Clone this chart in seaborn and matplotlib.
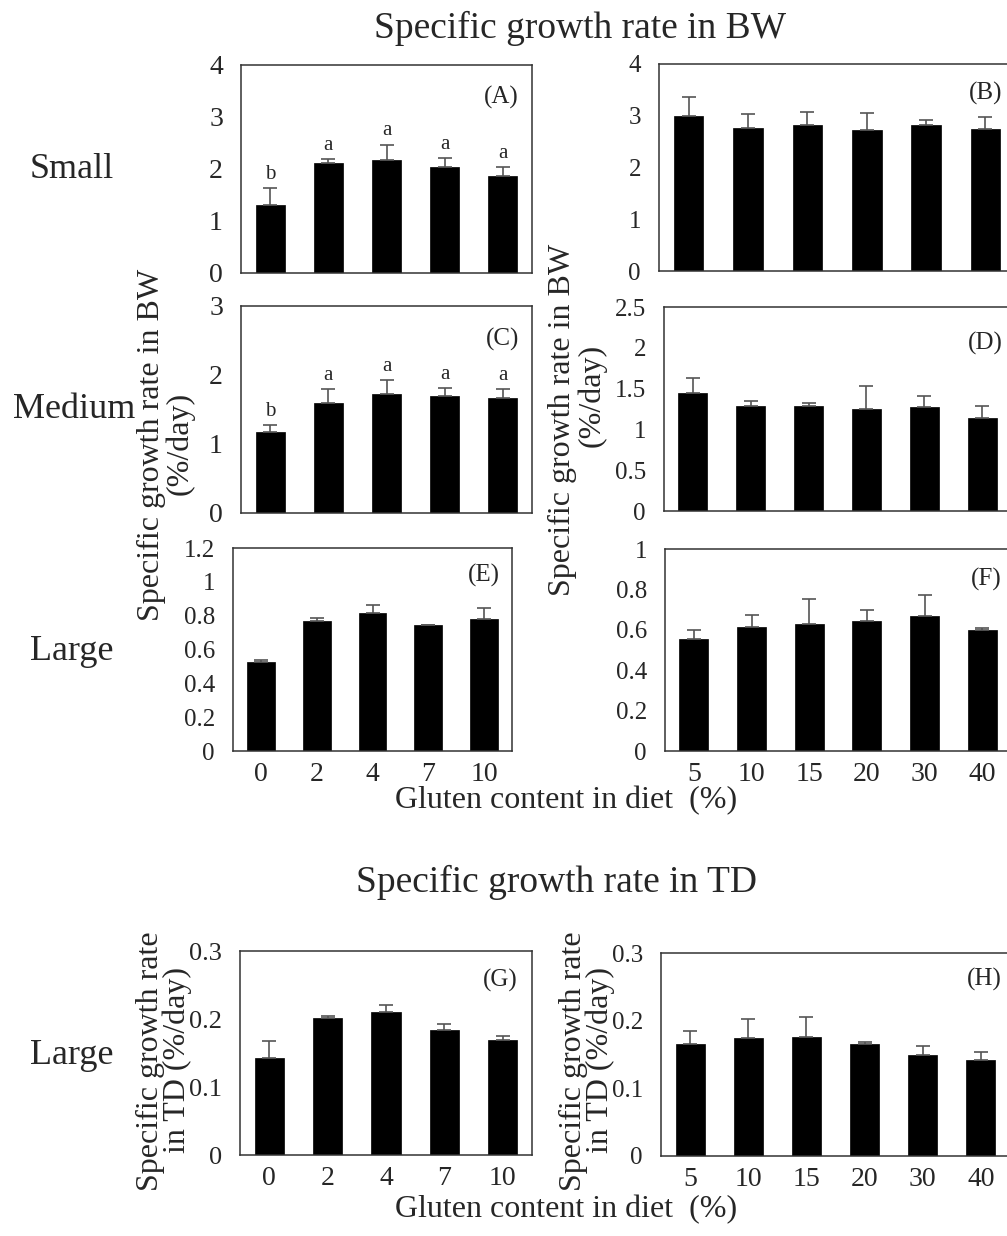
import numpy as np
import pandas as pd
import matplotlib
matplotlib.use("Agg")
import matplotlib.pyplot as plt
from matplotlib.ticker import FuncFormatter
import seaborn as sns

# gluten levels (x categories)
gluten_low = ["0", "2", "4", "7", "10"]
gluten_high = ["5", "10", "15", "20", "30", "40"]

# specific growth rate in BW (%/day), mean and upper error
bw_small_low = [1.30, 2.12, 2.18, 2.04, 1.86]
bw_small_low_err = [0.34, 0.07, 0.29, 0.17, 0.17]
bw_small_high = [3.00, 2.76, 2.82, 2.72, 2.83, 2.75]
bw_small_high_err = [0.37, 0.27, 0.26, 0.33, 0.08, 0.23]

bw_medium_low = [1.18, 1.59, 1.72, 1.70, 1.67]
bw_medium_low_err = [0.09, 0.20, 0.21, 0.11, 0.13]
bw_medium_high = [1.45, 1.29, 1.29, 1.25, 1.27, 1.14]
bw_medium_high_err = [0.18, 0.06, 0.03, 0.28, 0.14, 0.15]

bw_large_low = [0.526, 0.770, 0.816, 0.743, 0.780]
bw_large_low_err = [0.010, 0.018, 0.045, 0.004, 0.065]
bw_large_high = [0.554, 0.613, 0.631, 0.644, 0.669, 0.600]
bw_large_high_err = [0.046, 0.062, 0.122, 0.055, 0.102, 0.011]

# specific growth rate in TD (%/day)
td_large_low = [0.143, 0.201, 0.210, 0.184, 0.169]
td_large_low_err = [0.024, 0.004, 0.011, 0.009, 0.006]
td_large_high = [0.165, 0.174, 0.176, 0.165, 0.150, 0.142]
td_large_high_err = [0.019, 0.028, 0.029, 0.004, 0.012, 0.012]

# significance letters
letters_small = ["b", "a", "a", "a", "a"]
letters_medium = ["b", "a", "a", "a", "a"]

W, H = 1007, 1236

sns.set_style("white")
plt.rcParams["font.family"] = ["Liberation Serif", "DejaVu Serif"]

fig = plt.figure(figsize=(W / 100, H / 100), dpi=100)


def box(x0, y0, x1, y1):
    # pixel box -> figure fraction
    return [x0 / W, 1 - y1 / H, (x1 - x0) / W, (y1 - y0) / H]


def panel(rect, cats, vals, errs, ymax, ystep, tag, tagpos, ysize=18,
          letters=None, xlabels=True):
    ax = fig.add_axes(rect)
    df = pd.DataFrame({"gluten": cats, "rate": vals})
    sns.barplot(data=df, x="gluten", y="rate", color="black", width=0.5,
                edgecolor="black", linewidth=0.5, saturation=1, ax=ax)
    n = len(cats)
    ax.errorbar(np.arange(n), vals, yerr=[np.zeros(n), errs], fmt="none",
                ecolor="#555555", elinewidth=1.2, capsize=5, capthick=1.2)
    ax.set_xlim(-0.5, n - 0.5)
    ax.set_ylim(0, ymax)
    ax.set_yticks(np.arange(0, ymax + ystep / 2, ystep))
    ax.yaxis.set_major_formatter(FuncFormatter(lambda v, p: f"{round(v, 2):g}"))
    ax.set_xticks(np.arange(-0.5, n), [""] * (n + 1))
    ax.set_xticks(np.arange(n), cats if xlabels else [""] * n, minor=True)
    ax.tick_params(axis="x", which="major", direction="out", length=6, width=1, color="#333333")
    ax.tick_params(axis="x", which="minor", length=0, labelsize=20, pad=8)
    ax.tick_params(axis="y", direction="out", length=6, width=1, color="#333333",
                   labelsize=ysize, pad=7)
    ax.set_xlabel("")
    ax.set_ylabel("")
    for s in ax.spines.values():
        s.set_visible(True)
        s.set_color("#333333")
        s.set_linewidth(1.1)
    ax.text(tagpos[0], tagpos[1], tag, transform=ax.transAxes, ha="right",
            va="center", fontsize=18)
    if letters:
        for i, lt in enumerate(letters):
            ax.annotate(lt, (i, vals[i] + errs[i]), xytext=(0, 3),
                        textcoords="offset points", ha="center", va="bottom",
                        fontsize=15)
    return ax


panel(box(241, 65, 532, 273), gluten_low, bw_small_low, bw_small_low_err, 4, 1,
      "(A)", (0.955, 0.845), ysize=20, letters=letters_small, xlabels=False)
panel(box(659, 64, 1015, 271), gluten_high, bw_small_high, bw_small_high_err, 4, 1,
      "(B)", (0.965, 0.86), xlabels=False)
panel(box(241, 306, 532, 513), gluten_low, bw_medium_low, bw_medium_low_err, 3, 1,
      "(C)", (0.955, 0.84), ysize=20, letters=letters_medium, xlabels=False)
panel(box(664, 307, 1011, 511), gluten_high, bw_medium_high, bw_medium_high_err, 2.5, 0.5,
      "(D)", (0.977, 0.82), xlabels=False)
panel(box(233, 548, 512, 751), gluten_low, bw_large_low, bw_large_low_err, 1.2, 0.2,
      "(E)", (0.957, 0.867))
panel(box(665, 549, 1011, 751), gluten_high, bw_large_high, bw_large_high_err, 1, 0.2,
      "(F)", (0.974, 0.85))
panel(box(240, 951, 532, 1155), gluten_low, td_large_low, td_large_low_err, 0.3, 0.1,
      "(G)", (0.952, 0.858), ysize=19)
panel(box(661, 953, 1010, 1156), gluten_high, td_large_high, td_large_high_err, 0.3, 0.1,
      "(H)", (0.977, 0.87))


def ftext(x, y, s, **kw):
    fig.text(x / W, 1 - y / H, s, ha="center", va="center", **kw)


ftext(580, 28, "Specific growth rate in BW", fontsize=27)
ftext(556, 882, "Specific growth rate in TD", fontsize=27)

ftext(72, 170, "Small", fontsize=26)
ftext(74, 410, "Medium", fontsize=26)
ftext(72, 651, "Large", fontsize=26)
ftext(72, 1055, "Large", fontsize=26)

# y labels, one line per text
ftext(151, 445, "Specific growth rate in BW", fontsize=23, rotation=90)
ftext(180, 443, "(%/day)", fontsize=23, rotation=90)
ftext(562, 420, "Specific growth rate in BW", fontsize=23, rotation=90)
ftext(592, 395, "(%/day)", fontsize=23, rotation=90)
ftext(150, 1061, "Specific growth rate", fontsize=23, rotation=90)
ftext(177, 1060, "in TD (%/day)", fontsize=23, rotation=90)
ftext(573, 1061, "Specific growth rate", fontsize=23, rotation=90)
ftext(600, 1060, "in TD (%/day)", fontsize=23, rotation=90)

ftext(566, 801, "Gluten content in diet  (%)", fontsize=23)
ftext(566, 1210, "Gluten content in diet  (%)", fontsize=23)

fig.savefig("out.png", dpi=100)
